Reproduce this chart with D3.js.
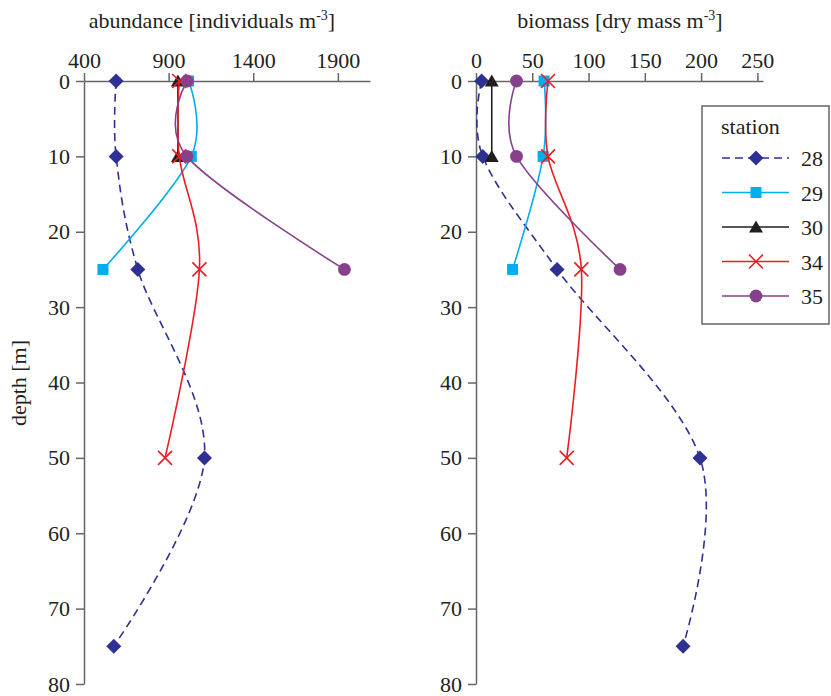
<!DOCTYPE html>
<html>
<head>
<meta charset="utf-8">
<script src="https://cdn.jsdelivr.net/npm/d3@7"></script>
<style>
  body { margin: 0; background: #fff; }
  svg text { font-family: 'Liberation Serif', 'DejaVu Serif', serif; }
</style>
</head>
<body>
<div id="chart"></div>
<script>
// station list and sampling depths (m)
const stations = ['28', '29', '30', '34', '35'];
const depths28 = [0, 10, 25, 50, 75];
const depths29 = [0, 10, 25];
const depths30 = [0, 10];
const depths34 = [0, 10, 25, 50];
const depths35 = [0, 10, 25];

// abundance [individuals m-3]
const abund28 = [590, 590, 718, 1112, 576];
const abund29 = [1018, 1034, 512];
const abund30 = [955, 955];
const abund34 = [963, 963, 1082, 879];
const abund35 = [1010, 1008, 1939];

// biomass [dry mass m-3]
const bio28 = [5, 6, 72, 199, 184];
const bio29 = [60.5, 59.6, 32.5];
const bio30 = [14, 14];
const bio34 = [64, 64, 93.6, 80.6];
const bio35 = [36, 36, 128];

const depthTicks = [0, 10, 20, 30, 40, 50, 60, 70, 80];
const abundTicks = [400, 900, 1400, 1900];
const bioTicks = [0, 50, 100, 150, 200, 250];

const depthsBy = {'28': depths28, '29': depths29, '30': depths30, '34': depths34, '35': depths35};
const abundBy = {'28': abund28, '29': abund29, '30': abund30, '34': abund34, '35': abund35};
const bioBy = {'28': bio28, '29': bio29, '30': bio30, '34': bio34, '35': bio35};

const colors = {'28': '#2e3192', '29': '#00aeef', '30': '#231f20', '34': '#ed1c24', '35': '#87418b'};
const markers = {'28': 'diamond', '29': 'square', '30': 'triangle', '34': 'cross', '35': 'circle'};
const dashes = {'28': '8,5'};

const width = 831;
const height = 696;
const textColor = '#231f20';
const axisColor = '#666';
const serif = "'Liberation Serif', 'DejaVu Serif', serif";

const svg = d3.select('#chart')
  .append('svg')
  .attr('width', width)
  .attr('height', height)
  .attr('viewBox', [0, 0, width, height])
  .attr('font-family', serif);

const y = d3.scaleLinear().domain([0, 80]).range([81, 684]);

const markerPath = (type) => {
  if (type === 'diamond') return 'M0,-7.5L7.5,0L0,7.5L-7.5,0Z';
  if (type === 'square') return 'M-5.5,-5.5H5.5V5.5H-5.5Z';
  if (type === 'triangle') return 'M0,-6.5L7,5.5L-7,5.5Z';
  if (type === 'cross') return 'M-7,-7L7,7M-7,7L7,-7';
  return d3.symbol(d3.symbolCircle, 130)();
};

const drawMarker = (g, s) => {
  const t = markers[s];
  g.append('path')
    .attr('d', markerPath(t))
    .attr('fill', t === 'cross' ? 'none' : colors[s])
    .attr('stroke', t === 'cross' ? colors[s] : 'none')
    .attr('stroke-width', 1.6);
};

const drawPanel = (x, ticks, valuesBy, title, titleX, axisX) => {
  const panel = svg.append('g');

  // top axis
  panel.append('g')
    .attr('transform', `translate(0, ${y(0)})`)
    .call(d3.axisTop(x).tickValues(ticks).tickFormat(d3.format('d')).tickSize(8).tickSizeOuter(0).tickPadding(5))
    .attr('font-family', serif)
    .call(g => g.selectAll('path, line').attr('stroke', axisColor).attr('stroke-width', 1.5))
    .call(g => g.selectAll('text').attr('fill', textColor).attr('font-size', '22px'));

  // left depth axis
  panel.append('g')
    .attr('transform', `translate(${axisX}, 0)`)
    .call(d3.axisLeft(y).tickValues(depthTicks).tickSize(8).tickSizeOuter(0).tickPadding(6))
    .attr('font-family', serif)
    .call(g => g.selectAll('path, line').attr('stroke', axisColor).attr('stroke-width', 1.5))
    .call(g => g.selectAll('text').attr('fill', textColor).attr('font-size', '22px'));

  // title
  const t = panel.append('text')
    .attr('x', titleX)
    .attr('y', 28)
    .attr('text-anchor', 'middle')
    .attr('fill', textColor)
    .attr('font-size', '22px');
  t.append('tspan').text(title);
  t.append('tspan').attr('dy', -8).attr('font-size', '14px').text('-3');
  t.append('tspan').attr('dy', 8).text(']');

  const line = d3.line()
    .x(d => x(d.v))
    .y(d => y(d.d))
    .curve(d3.curveCatmullRom.alpha(0));

  stations.forEach(s => {
    const pts = depthsBy[s].map((d, i) => ({d: d, v: valuesBy[s][i]}));
    const g = panel.append('g');
    g.append('path')
      .datum(pts)
      .attr('d', line)
      .attr('fill', 'none')
      .attr('stroke', colors[s])
      .attr('stroke-width', 1.6)
      .attr('stroke-dasharray', dashes[s] || null);
    g.selectAll('g.pt')
      .data(pts)
      .join('g')
      .attr('class', 'pt')
      .attr('transform', d => `translate(${x(d.v)}, ${y(d.d)})`)
      .each(function() { drawMarker(d3.select(this), s); });
  });
};

const xAbund = d3.scaleLinear().domain([400, 2090]).range([84, 370]);
const xBio = d3.scaleLinear().domain([0, 255]).range([476, 763]);

drawPanel(xAbund, abundTicks, abundBy, 'abundance [individuals m', 212, 84);
drawPanel(xBio, bioTicks, bioBy, 'biomass [dry mass m', 620, 476);

// depth label
svg.append('text')
  .attr('transform', 'translate(26, 383) rotate(-90)')
  .attr('text-anchor', 'middle')
  .attr('fill', textColor)
  .attr('font-size', '22px')
  .text('depth [m]');

// legend
const legend = svg.append('g');
legend.append('rect')
  .attr('x', 702)
  .attr('y', 106)
  .attr('width', 127)
  .attr('height', 218)
  .attr('fill', '#fff')
  .attr('stroke', axisColor)
  .attr('stroke-width', 1.5);

legend.append('text')
  .attr('x', 721)
  .attr('y', 134)
  .attr('fill', textColor)
  .attr('font-size', '22px')
  .text('station');

const ly = d3.scalePoint().domain(stations).range([158, 296]);

stations.forEach(s => {
  const row = legend.append('g').attr('transform', `translate(0, ${ly(s)})`);
  row.append('line')
    .attr('x1', 722).attr('x2', 789)
    .attr('stroke', colors[s])
    .attr('stroke-width', 1.6)
    .attr('stroke-dasharray', dashes[s] || null);
  const m = row.append('g').attr('transform', 'translate(756, 0)');
  drawMarker(m, s);
  row.append('text')
    .attr('x', 801)
    .attr('y', 8)
    .attr('fill', textColor)
    .attr('font-size', '22px')
    .text(s);
});
</script>
</body>
</html>
